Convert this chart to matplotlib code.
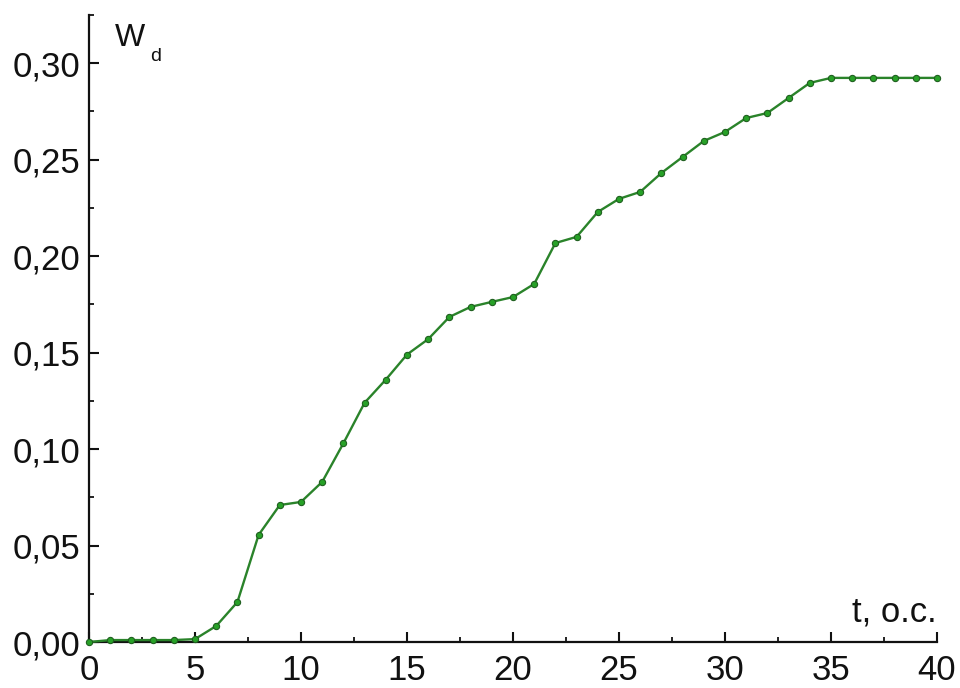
import matplotlib
matplotlib.use("Agg")
import matplotlib.pyplot as plt
from matplotlib.ticker import MultipleLocator, FixedLocator, FixedFormatter

plt.rcParams['font.family'] = ['Liberation Sans', 'DejaVu Sans']

# Time, o.c.
t = list(range(0, 41))
# Wd values
wd = [0.000, 0.001, 0.001, 0.001, 0.001, 0.0015, 0.0083, 0.0207, 0.0555, 0.071,
      0.0726, 0.083, 0.103, 0.124, 0.136, 0.149, 0.157, 0.1685, 0.1737, 0.1763,
      0.1788, 0.1856, 0.2068, 0.210, 0.2229, 0.2297, 0.2333, 0.2431, 0.2514, 0.2597,
      0.2644, 0.2716, 0.2742, 0.282, 0.2898, 0.2924, 0.2924, 0.2924, 0.2924, 0.2924,
      0.2924]

x_ticks = [0, 5, 10, 15, 20, 25, 30, 35, 40]
x_tick_labels = ["0", "5", "10", "15", "20", "25", "30", "35", "40"]
y_ticks = [0.00, 0.05, 0.10, 0.15, 0.20, 0.25, 0.30]
y_tick_labels = ["0,00", "0,05", "0,10", "0,15", "0,20", "0,25", "0,30"]

fig = plt.figure(figsize=(9.6, 6.88), dpi=100)
ax = fig.add_axes([89 / 960, 46 / 688, (937 - 89) / 960, (642 - 15) / 688])

ax.plot(t, wd, color='#2a832a', lw=1.7, marker='o', markersize=4.5,
        markerfacecolor='#27a127', markeredgecolor='#1f5f1f', markeredgewidth=0.8,
        zorder=3, clip_on=False)

ax.set_xlim(0, 40)
ax.set_ylim(0, 0.325)

ax.xaxis.set_major_locator(FixedLocator(x_ticks))
ax.xaxis.set_major_formatter(FixedFormatter(x_tick_labels))
ax.yaxis.set_major_locator(FixedLocator(y_ticks))
ax.yaxis.set_major_formatter(FixedFormatter(y_tick_labels))
ax.xaxis.set_minor_locator(MultipleLocator(2.5))
ax.yaxis.set_minor_locator(MultipleLocator(0.025))

for side in ('top', 'right'):
    ax.spines[side].set_visible(False)
for side in ('left', 'bottom'):
    ax.spines[side].set_linewidth(1.6)
    ax.spines[side].set_color('#111111')

ax.tick_params(which='major', direction='in', length=7.5, width=1.5,
               labelsize=25, colors='#111111', pad=6)
ax.tick_params(which='minor', direction='in', length=3.8, width=1.3, colors='#111111')
ax.tick_params(axis='x', which='major', pad=9)

ax.text(0.031, 0.987, r"W", transform=ax.transAxes, fontsize=23,
        ha='left', va='top', color='#111111')
ax.text(0.072, 0.947, "d", transform=ax.transAxes, fontsize=14,
        ha='left', va='top', color='#111111')
ax.text(1.0, 0.022, "t, o.c.", transform=ax.transAxes, fontsize=25,
        ha='right', va='bottom', color='#111111')

fig.savefig("out.png", dpi=100)
